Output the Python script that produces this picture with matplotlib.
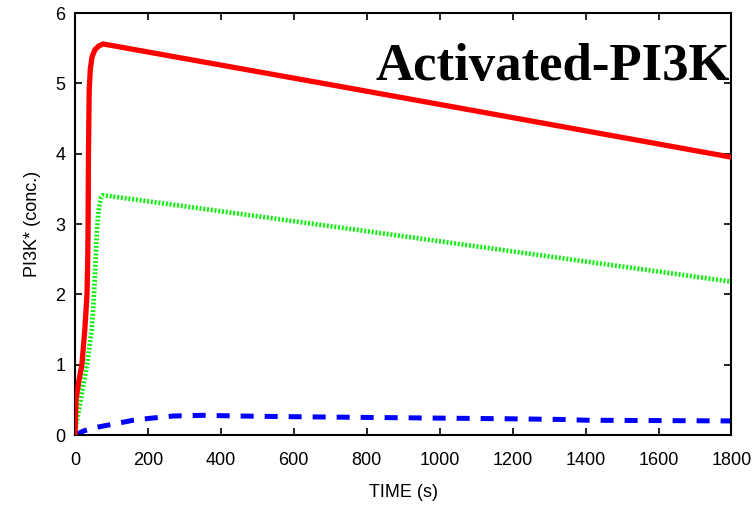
import matplotlib
matplotlib.use("Agg")
import matplotlib.pyplot as plt

red_t = [0, 3, 10, 19, 27, 33, 35, 36, 37, 39, 42, 47, 55, 65, 77, 755, 1800]
red_y = [0, 0.5, 0.75, 1.0, 1.5, 2.0, 2.5, 3.0, 4.0, 4.9, 5.2, 5.38, 5.48, 5.53, 5.56, 4.93, 3.95]

green_t = [0, 5, 9, 19, 33, 46, 50, 55, 60, 64, 68, 72, 77, 755, 1800]
green_y = [0.05, 0.2, 0.3, 0.6, 1.0, 1.5, 1.8, 2.3, 2.9, 3.15, 3.3, 3.38, 3.41, 2.93, 2.18]

blue_t = [0, 25, 60, 100, 160, 210, 270, 350, 450, 600, 800, 1000, 1200, 1350, 1400, 1800]
blue_y = [0, 0.06, 0.11, 0.15, 0.21, 0.24, 0.27, 0.28, 0.27, 0.26, 0.25, 0.24, 0.23, 0.22, 0.21, 0.20]

xticks = [0, 200, 400, 600, 800, 1000, 1200, 1400, 1600, 1800]
yticks = [0, 1, 2, 3, 4, 5, 6]

fig = plt.figure(figsize=(7.55, 5.08), dpi=100)
ax = fig.add_axes([0.0993, 0.1437, 0.8695, 0.8307])
plt.rcParams['font.family'] = ['Liberation Sans', 'DejaVu Sans']

ax.plot(red_t, red_y, color='#ff0000', lw=3.8, solid_capstyle='butt',
        solid_joinstyle='round', zorder=3)
ax.plot(green_t, green_y, color='#11ee11', lw=3.4, linestyle=(0, (0.42, 0.38)), zorder=2)
ax.plot(blue_t, blue_y, color='#0000ff', lw=3.6, linestyle=(0, (2.6, 2.2)), zorder=2)

ax.set_xlim(0, 1800)
ax.set_ylim(0, 6)
ax.set_xticks(xticks)
ax.set_yticks(yticks)
ax.tick_params(axis='both', direction='in', top=True, right=True, length=5, width=1.2,
               labelsize=13)
ax.tick_params(axis='x', pad=12)
ax.tick_params(axis='y', pad=7)
for lab in ax.get_xticklabels() + ax.get_yticklabels():
    lab.set_family(['Liberation Sans', 'DejaVu Sans'])
for s in ax.spines.values():
    s.set_linewidth(1.5)

ax.set_xlabel('TIME (s)', fontsize=13, family=['Liberation Sans', 'DejaVu Sans'], labelpad=11)
ax.set_ylabel('PI3K* (conc.)', fontsize=13, family=['Liberation Sans', 'DejaVu Sans'], labelpad=10)

ax.text(0.998, 0.841, 'Activated-PI3K', transform=ax.transAxes, ha='right', va='baseline',
        fontsize=38, fontweight='bold', family=['Liberation Serif', 'DejaVu Serif'])

fig.savefig('out.png', dpi=100)
